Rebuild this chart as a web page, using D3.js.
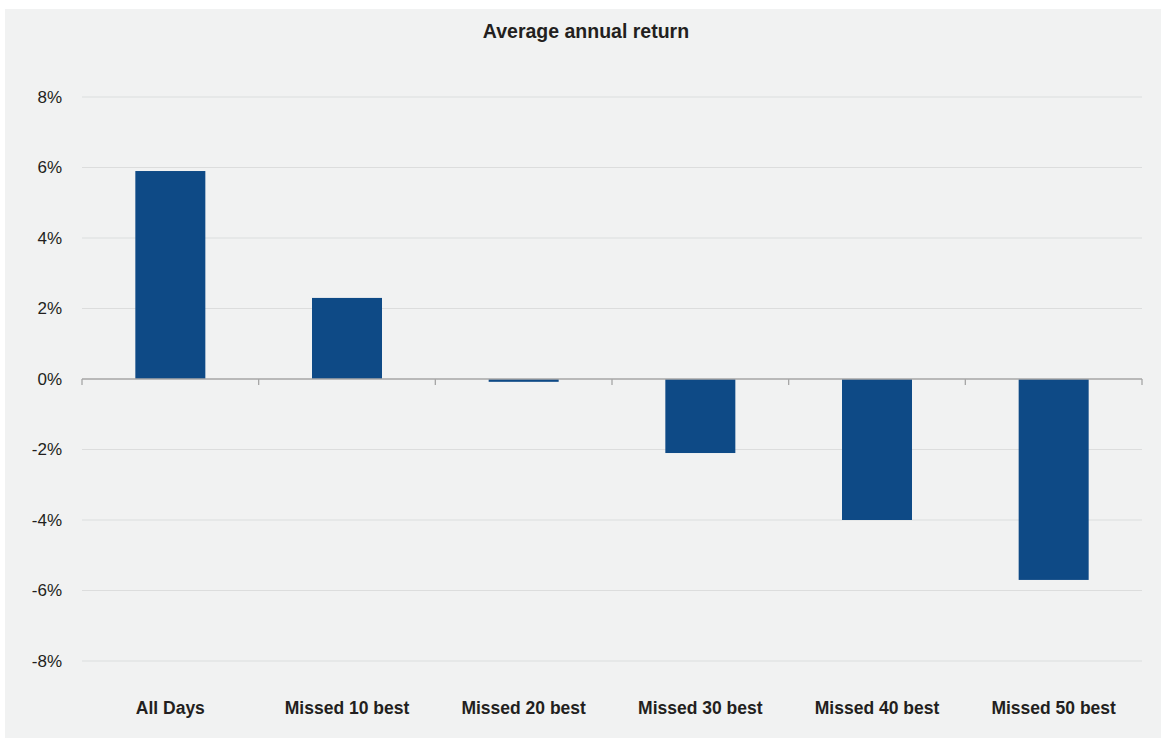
<!DOCTYPE html>
<html>
<head>
<meta charset="utf-8">
<script src="https://cdn.jsdelivr.net/npm/d3@7"></script>
<style>
  body { margin: 0; background: #ffffff; }
  svg { display: block; }
</style>
</head>
<body>
<svg id="drawing_region"></svg>
<script>
// chart data
const categories = ['All Days', 'Missed 10 best', 'Missed 20 best', 'Missed 30 best', 'Missed 40 best', 'Missed 50 best'];
const returns = [5.9, 2.3, -0.08, -2.1, -4.0, -5.7];
const y_ticks = [-8, -6, -4, -2, 0, 2, 4, 6, 8];
const title = 'Average annual return';

const config = {
    width: 1161,
    height: 738,
    margin: {top:97, right:19, bottom:77, left:82}
};

const svg = d3.select('#drawing_region')
    .attr('width', config.width)
    .attr('height', config.height);

svg.append('rect')
    .attr('x', 5).attr('y', 9)
    .attr('width', config.width - 5)
    .attr('height', config.height - 9)
    .attr('fill', '#f1f2f2');

svg.append('text')
    .attr('x', 586).attr('y', 38)
    .attr('text-anchor', 'middle')
    .attr('font-family', '"Liberation Sans", Arial, sans-serif')
    .attr('font-size', 19.5)
    .attr('font-weight', 'bold')
    .attr('fill', '#231f20')
    .text(title);

const inner_width = config.width - config.margin.left - config.margin.right;
const inner_height = config.height - config.margin.top - config.margin.bottom;

const chart = svg.append('g')
    .attr('transform', `translate(${config.margin.left}, ${config.margin.top})`);

const xscale = d3.scaleBand()
    .domain(categories)
    .range([0, inner_width])
    .paddingInner(0)
    .paddingOuter(0);

const yscale = d3.scaleLinear()
    .domain([8, -8])
    .range([0, 564]);

// gridlines
chart.selectAll('.grid')
    .data(y_ticks.filter(d => d !== 0))
    .enter()
    .append('line')
    .attr('x1', 0).attr('x2', inner_width)
    .attr('y1', d => yscale(d)).attr('y2', d => yscale(d))
    .attr('stroke', '#dcdddd')
    .attr('stroke-width', 1.2);

// y labels
chart.selectAll('.ylabel')
    .data(y_ticks)
    .enter()
    .append('text')
    .attr('x', -20)
    .attr('y', d => yscale(d))
    .attr('dy', '0.35em')
    .attr('text-anchor', 'end')
    .attr('font-family', '"Liberation Sans", Arial, sans-serif')
    .attr('font-size', 17)
    .attr('fill', '#231f20')
    .text(d => d + '%');

// bars
const bw = 70;
chart.selectAll('rect.bar')
    .data(returns)
    .enter()
    .append('rect')
    .attr('class', 'bar')
    .attr('x', (d, i) => xscale(categories[i]) + (xscale.bandwidth() - bw) / 2)
    .attr('y', d => yscale(Math.max(0, d)))
    .attr('width', bw)
    .attr('height', d => Math.abs(yscale(d) - yscale(0)))
    .attr('fill', '#0e4a86');

// zero axis with ticks
const zero = chart.append('g')
    .attr('transform', `translate(0, ${yscale(0)})`);
zero.append('line')
    .attr('x1', 0).attr('x2', inner_width)
    .attr('stroke', '#a6a6a6').attr('stroke-width', 1.3);
zero.selectAll('.tick_mark')
    .data(d3.range(categories.length + 1))
    .enter()
    .append('line')
    .attr('x1', i => i * xscale.step()).attr('x2', i => i * xscale.step())
    .attr('y1', 0).attr('y2', 6)
    .attr('stroke', '#a6a6a6').attr('stroke-width', 1.3);

// category labels
chart.selectAll('.xlabel')
    .data(categories)
    .enter()
    .append('text')
    .attr('x', d => xscale(d) + xscale.bandwidth() / 2)
    .attr('y', 611)
    .attr('dy', '0.35em')
    .attr('text-anchor', 'middle')
    .attr('font-family', '"Liberation Sans", Arial, sans-serif')
    .attr('font-size', 17.5)
    .attr('font-weight', 'bold')
    .attr('fill', '#231f20')
    .text(d => d);
</script>
</body>
</html>
